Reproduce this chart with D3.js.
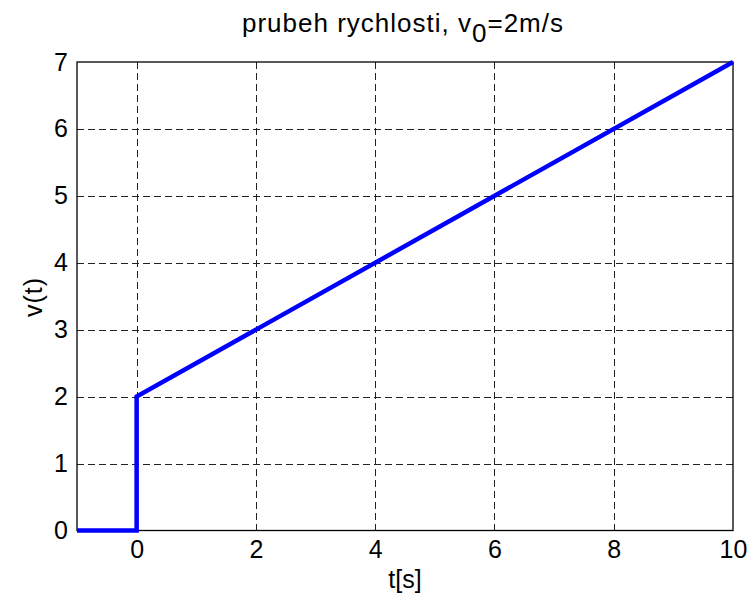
<!DOCTYPE html>
<html><head><meta charset="utf-8">
<script src="https://cdn.jsdelivr.net/npm/d3@7"></script>
<style>body{margin:0;background:#fff}svg{display:block}text{font-family:"Liberation Sans",Arial,sans-serif;fill:#000}</style>
</head><body><svg id="c" width="753" height="597"></svg>
<script>
const tValues = [-1, 0, 0, 10];
const vValues = [0, 0, 2, 7];
const xTicks = [0, 2, 4, 6, 8, 10];
const yTicks = [0, 1, 2, 3, 4, 5, 6, 7];

const svg = d3.select("#c");
const m = {l: 77, r: 733, t: 62, b: 530.5};
const x = d3.scaleLinear().domain([-1, 10]).range([m.l, m.r]);
const y = d3.scaleLinear().domain([0, 7]).range([m.b, m.t]);
const FONT = '"Liberation Sans",Arial,sans-serif';

const grid = svg.append("g").attr("stroke", "#222").attr("stroke-width", 1).attr("stroke-dasharray", "7,4");
xTicks.forEach(d => { if (d > -1 && d < 10) grid.append("line").attr("x1", Math.round(x(d))+0.5).attr("x2", Math.round(x(d))+0.5).attr("y1", m.t).attr("y2", m.b); });
yTicks.forEach(d => { if (d > 0 && d < 7) grid.append("line").attr("y1", Math.round(y(d))+0.5).attr("y2", Math.round(y(d))+0.5).attr("x1", m.l).attr("x2", m.r); });

svg.append("rect").attr("x", m.l).attr("y", m.t).attr("width", m.r - m.l).attr("height", m.b - m.t)
  .attr("fill", "none").attr("stroke", "#000").attr("stroke-width", 1.3);

const xAxis = svg.append("g").attr("transform", `translate(0,${m.b})`)
  .call(d3.axisBottom(x).tickValues(xTicks).tickFormat(d3.format("d")).tickSize(0).tickPadding(10));
xAxis.select(".domain").remove();
xAxis.attr("font-size", 25).attr("font-family", FONT);
xAxis.selectAll("text").attr("fill", "#000");

const yAxis = svg.append("g").attr("transform", `translate(${m.l},0)`)
  .call(d3.axisLeft(y).tickValues(yTicks).tickFormat(d3.format("d")).tickSize(0).tickPadding(9));
yAxis.select(".domain").remove();
yAxis.attr("font-size", 25).attr("font-family", FONT);
yAxis.selectAll("text").attr("fill", "#000");

const line = d3.line().x((d, i) => x(tValues[i])).y(d => y(d));
svg.append("path").datum(vValues).attr("d", line).attr("fill", "none")
  .attr("stroke", "#0000ff").attr("stroke-width", 4.5).attr("stroke-linejoin", "miter");

const title = svg.append("text").attr("x", 403).attr("y", 32).attr("text-anchor", "middle").attr("font-size", 26).attr("letter-spacing", 1);
title.append("tspan").text("prubeh rychlosti, v");
title.append("tspan").attr("dy", 10).text("0");
title.append("tspan").attr("dy", -10).text("=2m/s");

svg.append("text").attr("x", 405).attr("y", 588).attr("text-anchor", "middle").attr("font-size", 25).text("t[s]");
svg.append("text").attr("transform", "translate(42,297) rotate(-90)").attr("text-anchor", "middle").attr("font-size", 25).attr("letter-spacing", 1).text("v(t)");
</script></body></html>
